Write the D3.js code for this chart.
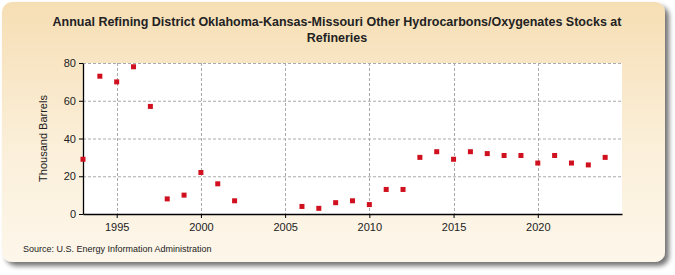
<!DOCTYPE html>
<html>
<head>
<meta charset="utf-8">
<script src="https://cdn.jsdelivr.net/npm/d3@7"></script>
<style>
body { margin: 0; background: #fff; }
text { font-family: "Liberation Sans", Arial, sans-serif; }
</style>
</head>
<body>
<svg id="mainsvg"></svg>
<script>
// data (thousand barrels)
let years = [1993, 1994, 1995, 1996, 1997, 1998, 1999, 2000, 2001, 2002,
             2006, 2007, 2008, 2009, 2010, 2011, 2012, 2013, 2014, 2015,
             2016, 2017, 2018, 2019, 2020, 2021, 2022, 2023, 2024];
let stocks = [29, 73, 70, 78, 57, 8, 10, 22, 16, 7,
              4, 3, 6, 7, 5, 13, 13, 30, 33, 29,
              33, 32, 31, 31, 27, 31, 27, 26, 30];
let xTicks = [1995, 2000, 2005, 2010, 2015, 2020];
let yTicks = [0, 20, 40, 60, 80];
let titleLines = ["Annual Refining District Oklahoma-Kansas-Missouri Other Hydrocarbons/Oxygenates Stocks at",
                  "Refineries"];

let mainsvg = d3.select("#mainsvg"),
    svgWidth = 675,
    svgHeight = 275,
    margin = {top: 63, right: 53, bottom: 61, left: 83},
    width = svgWidth - margin.left - margin.right,
    height = svgHeight - margin.top - margin.bottom;

mainsvg.attr("width", svgWidth).attr("height", svgHeight);

let defs = mainsvg.append("defs");
let grad = defs.append("linearGradient").attr("id", "bg").attr("x1", 0).attr("y1", 0).attr("x2", 0).attr("y2", 1);
grad.append("stop").attr("offset", "0%").attr("stop-color", "#f6deb4");
grad.append("stop").attr("offset", "55%").attr("stop-color", "#fbefd9");
grad.append("stop").attr("offset", "100%").attr("stop-color", "#fdf6ea");
let shadow = defs.append("filter").attr("id", "shadow").attr("x", "-5%").attr("y", "-5%").attr("width", "115%").attr("height", "120%");
shadow.append("feGaussianBlur").attr("in", "SourceAlpha").attr("stdDeviation", 2.5);
shadow.append("feOffset").attr("dx", 4).attr("dy", 4).attr("result", "b");
shadow.append("feComponentTransfer").append("feFuncA").attr("type", "linear").attr("slope", 0.55);
let merge = shadow.append("feMerge");
merge.append("feMergeNode");
merge.append("feMergeNode").attr("in", "SourceGraphic");

mainsvg.append("rect")
    .attr("x", 2).attr("y", 2).attr("width", 663).attr("height", 260)
    .attr("rx", 10).attr("ry", 10)
    .attr("fill", "url(#bg)")
    .attr("filter", "url(#shadow)");

mainsvg.append("g").selectAll("text").data(titleLines).enter().append("text")
    .attr("x", 337).attr("y", (d, i) => 26 + i * 16)
    .attr("text-anchor", "middle")
    .attr("font-size", "12.5px").attr("font-weight", "bold")
    .attr("fill", "#222")
    .text(d => d);

let scaleX = d3.scaleLinear().domain([1993, 2025]).range([0, width]),
    scaleY = d3.scaleLinear().domain([0, 80]).range([height, 0]);

let mainGroup = mainsvg.append("g").attr("transform", `translate(${margin.left}, ${margin.top})`);

mainGroup.append("rect").attr("width", width).attr("height", height).attr("fill", "#fff");

// grid
mainGroup.append("g").selectAll("line").data(yTicks.filter(d => d > 0)).enter().append("line")
    .attr("x1", 0).attr("x2", width)
    .attr("y1", d => scaleY(d) + 0.5).attr("y2", d => scaleY(d) + 0.5)
    .attr("stroke", "#aaa").attr("stroke-dasharray", "3,2");
mainGroup.append("g").selectAll("line").data(xTicks).enter().append("line")
    .attr("x1", d => Math.round(scaleX(d)) + 0.5).attr("x2", d => Math.round(scaleX(d)) + 0.5)
    .attr("y1", 0).attr("y2", height)
    .attr("stroke", "#aaa").attr("stroke-dasharray", "3,2");

let xAxis = mainGroup.append("g")
    .attr("transform", `translate(0,${height})`)
    .call(d3.axisBottom(scaleX).tickValues(xTicks).tickFormat(d3.format("d")).tickSize(4).tickSizeOuter(0));
let yAxis = mainGroup.append("g")
    .call(d3.axisLeft(scaleY).tickValues(yTicks).tickSize(4).tickSizeOuter(0));
[xAxis, yAxis].forEach(a => {
    a.select(".domain").attr("stroke", "#000").attr("stroke-width", 1.3);
    a.selectAll(".tick line").attr("stroke", "#000");
    a.selectAll(".tick text").attr("font-size", "11px").attr("fill", "#222")
        .attr("font-family", "'Liberation Sans', Arial, sans-serif");
});
xAxis.selectAll(".tick text").attr("dy", "0.9em");

mainsvg.append("text")
    .attr("transform", `translate(47, ${margin.top + height / 2}) rotate(-90)`)
    .attr("text-anchor", "middle")
    .attr("font-size", "11px").attr("fill", "#222")
    .text("Thousand Barrels");

mainGroup.append("g").selectAll("rect").data(years).enter().append("rect")
    .attr("x", (d, i) => scaleX(d) - 2.5)
    .attr("y", (d, i) => scaleY(stocks[i]) - 2.5)
    .attr("width", 5).attr("height", 5)
    .attr("fill", "#d0101e");

mainsvg.append("text")
    .attr("x", 23).attr("y", 252)
    .attr("font-size", "9px").attr("fill", "#222")
    .text("Source: U.S. Energy Information Administration");
</script>
</body>
</html>
